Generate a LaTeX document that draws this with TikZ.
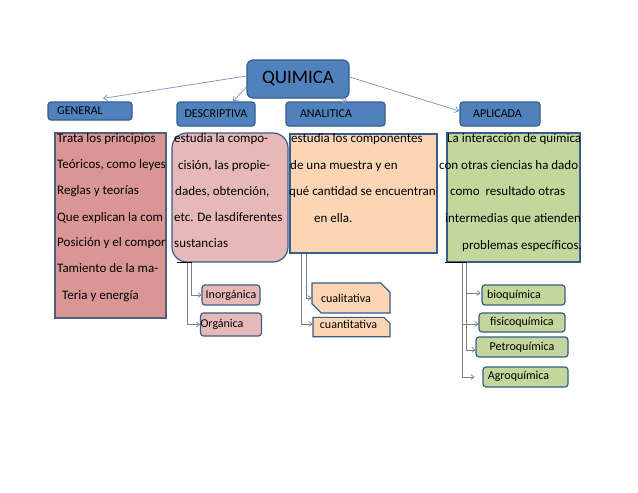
\documentclass[tikz,border=0pt]{standalone}
\usepackage{fontspec}
\setmainfont{Carlito}
\usetikzlibrary{shapes.misc,arrows.meta}
\definecolor{hblue}{HTML}{4F81BD}
\definecolor{hborder}{HTML}{385D8A}
\definecolor{genfill}{HTML}{D99694}
\definecolor{genborder}{HTML}{4F5F7F}
\definecolor{descfill}{HTML}{E6B9B8}
\definecolor{analfill}{HTML}{FCD5B5}
\definecolor{aplfill}{HTML}{C3D69B}
\definecolor{qline}{HTML}{7094C8}
\definecolor{subline}{HTML}{7F7F7F}
\newcommand{\padr}[1]{\rule{#1}{0pt}}
\begin{document}
\begin{tikzpicture}[x=1pt,y=-1pt,
  head/.style={draw=hborder, fill=hblue, line width=1.2pt, rounded corners=3pt, inner sep=0pt, font=\fontsize{12}{12}\selectfont},
  bigbox/.style={draw=hborder, line width=1.2pt, inner sep=0pt},
  subbox/.style={draw=hborder, line width=1.2pt, rounded corners=3pt, inner sep=0pt, font=\fontsize{12}{12}\selectfont},
  txt/.style={anchor=base west, inner sep=0pt, font=\fontsize{13}{13}\selectfont},
  qarrow/.style={draw=qline, line width=0.7pt, -{Straight Barb[length=4pt,width=6pt]}},
  subconn/.style={draw=subline, line width=0.7pt, -{Straight Barb[length=3pt,width=5pt]}},
  stub/.style={draw=black, line width=0.9pt}
]
\useasboundingbox[fill=white] (0,0) rectangle (638,493);

% heads
\node[head, rounded corners=6pt, minimum width=102pt, minimum height=38pt, font=\fontsize{19}{19}\selectfont] (quimica) at (298,79) {QUIMICA};
\node[head, minimum width=84pt, minimum height=18pt] (general) at (90,111) {GENERAL\padr{20pt}};
\node[head, minimum width=78pt, minimum height=24pt] (descriptiva) at (216,114) {DESCRIPTIVA};
\node[head, minimum width=99pt, minimum height=24pt] (analitica) at (335.5,114) {ANALITICA\padr{19pt}};
\node[head, minimum width=80pt, minimum height=24pt] (aplicada) at (500,114) {APLICADA\padr{5pt}};

% big boxes
\node[bigbox, draw=genborder, fill=genfill, minimum width=111pt, minimum height=185pt] (gen) at (110.5,225.5) {};
\node[bigbox, fill=descfill, rounded corners=15pt, minimum width=116pt, minimum height=129pt] (desc) at (230,197.5) {};
\node[bigbox, fill=analfill, minimum width=147pt, minimum height=119pt] (anal) at (363.5,193.5) {};
\node[bigbox, fill=aplfill, minimum width=133pt, minimum height=129pt] (apl) at (513.5,197.5) {};

% texts general
\node[txt] (g1) at (57,142) {Trata los principios};
\node[txt] (g2) at (57,168) {Teóricos, como leyes};
\node[txt] (g3) at (57,194) {Reglas y teorías};
\node[txt] (g4) at (57,221) {Que explican la com};
\node[txt] (g5) at (57,246) {Posición y el compor};
\node[txt] (g6) at (57,272) {Tamiento de la ma-};
\node[txt] (g7) at (62,299) {Teria y energía};

% texts descriptiva
\node[txt] (d1) at (174,142) {estudia la compo-};
\node[txt] (d2) at (178,169) {cisión, las propie-};
\node[txt] (d3) at (175,195) {dades, obtención,};
\node[txt] (d4) at (174,221) {etc. De lasdiferentes};
\node[txt] (d5) at (174,247) {sustancias};

% texts analitica
\node[txt] (a1) at (291,142) {estudia los componentes};
\node[txt] (a2) at (290,169) {de una muestra y en};
\node[txt] (a3) at (289,195) {qué cantidad se encuentran};
\node[txt] (a4) at (314,222) {en ella.};

% texts aplicada
\node[txt] (p1) at (447,142) {La interacción de química};
\node[txt] (p2) at (439,169) {con otras ciencias ha dado};
\node[txt] (p3) at (450,195) {como\ \ resultado otras};
\node[txt] (p4) at (445,222) {intermedias que atienden};
\node[txt] (p5) at (462,249) {problemas específicos.};

% sub boxes
\node[subbox, fill=descfill, minimum width=58pt, minimum height=20pt] (inorg) at (231,295) {Inorgánica};
\node[subbox, fill=descfill, minimum width=58pt, minimum height=23pt] (org) at (231,324.5) {\raisebox{3pt}{Orgánica}\padr{18pt}};
\node[subbox, rounded corners=0pt, chamfered rectangle, chamfered rectangle corners={north east,south west}, chamfered rectangle xsep=5pt, chamfered rectangle ysep=5pt, fill=analfill, minimum width=78pt, minimum height=30pt] (cual) at (351,298) {cualitativa\padr{10pt}};
\node[subbox, rounded corners=0pt, chamfered rectangle, chamfered rectangle corners={north east}, chamfered rectangle xsep=3pt, chamfered rectangle ysep=3pt, fill=analfill, minimum width=77pt, minimum height=18pt] (cuant) at (351.5,327) {\raisebox{5pt}{cuantitativa}\padr{6pt}};
\node[subbox, fill=aplfill, minimum width=83pt, minimum height=20pt] (bio) at (523.5,295) {bioquímica\padr{19pt}};
\node[subbox, fill=aplfill, minimum width=86pt, minimum height=19pt] (fisico) at (522,322.5) {\raisebox{1pt}{fisicoquímica}};
\node[subbox, fill=aplfill, minimum width=92pt, minimum height=20pt] (petro) at (522,347) {Petroquímica};
\node[subbox, fill=aplfill, minimum width=85pt, minimum height=20pt] (agro) at (525.5,377) {\raisebox{4pt}{Agroquímica}\padr{14pt}};

% arrows from QUIMICA
\draw[qarrow] ([yshift=3pt]quimica.west) -- ([xshift=13pt,yshift=3pt]general.north);
\draw[qarrow] ([yshift=-8pt]quimica.west) -- ([xshift=17pt]descriptiva.north);
\draw[qarrow] ([xshift=43pt]quimica.south) -- ([xshift=12pt,yshift=-1pt]analitica.north);
\draw[qarrow] ([yshift=2pt]quimica.east) -- ([yshift=3pt]aplicada.west);

% stubs
\draw[stub] ([xshift=6pt]desc.south west) -- ([xshift=21pt]desc.south west);
\draw[stub] ([xshift=-1pt]apl.south west) -- ([xshift=21pt]apl.south west);

% sub connectors
\draw[subconn] ([xshift=20pt]desc.south west) |- (inorg.west);
\draw[subconn] ([xshift=16pt]desc.south west) |- (org.west);
\draw[subconn] ([xshift=17pt]anal.south west) |- (cual.west);
\draw[subconn] ([xshift=12pt]anal.south west) |- ([yshift=3pt]cuant.west);
\draw[subconn] ([xshift=20pt]apl.south west) |- ([xshift=-1pt,yshift=2pt]bio.west);
\draw[subconn] ([xshift=16pt]apl.south west) |- ([yshift=-1.5pt]fisico.west);
\draw[subconn] ([xshift=20pt]apl.south west) |- ([yshift=-3pt]petro.west);
\draw[subconn] ([xshift=16pt]apl.south west) |- ([xshift=-8pt]agro.west);
\end{tikzpicture}
\end{document}
